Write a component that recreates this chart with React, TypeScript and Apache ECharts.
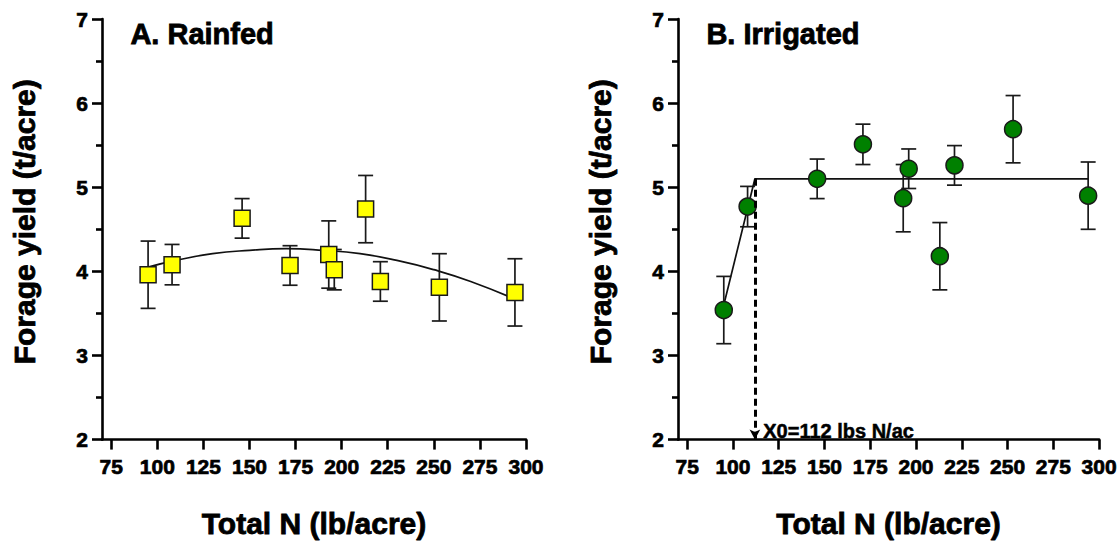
import React, { useEffect, useRef } from "react";
import * as echarts from "echarts";

// ---- data ----
const X_TICKS = [75, 100, 125, 150, 175, 200, 225, 250, 275, 300];

const RAIN_N = [95, 108, 146, 172, 193, 196, 213, 221, 253, 294];
const RAIN_YIELD = [3.96, 4.08, 4.63, 4.07, 4.2, 4.02, 4.74, 3.88, 3.81, 3.75];
const RAIN_SE = [0.4, 0.24, 0.235, 0.235, 0.4, 0.24, 0.4, 0.235, 0.4, 0.4];

const RAIN_FIT_N = [95, 110, 130, 150, 170, 190, 210, 230, 250, 270, 294];
const RAIN_FIT_Y = [4.05, 4.13, 4.21, 4.25, 4.27, 4.25, 4.21, 4.13, 4.02, 3.88, 3.67];

const IRR_N = [95, 108, 146, 171, 193, 196, 213, 221, 253, 294];
const IRR_YIELD = [3.54, 4.77, 5.1, 5.51, 4.87, 5.22, 4.18, 5.26, 5.69, 4.9];
const IRR_SE = [0.4, 0.24, 0.235, 0.24, 0.4, 0.235, 0.4, 0.235, 0.4, 0.4];

const IRR_FIT_N = [95, 112, 294];
const IRR_FIT_Y = [3.6, 5.1, 5.1];

const BREAK_N = 112;
const BREAK_Y = 5.1;

const TITLES = ["A. Rainfed", "B. Irrigated"];
const X_NAME = "Total N (lb/acre)";
const Y_NAME = "Forage yield (t/acre)";
const BREAK_LABEL = "X0=112 lbs N/ac";

const FONT = "Liberation Sans";

function errRender(params: any, api: any) {
  const x = api.value(0);
  const lo = api.value(1);
  const hi = api.value(2);
  const top = api.coord([x, hi]);
  const bot = api.coord([x, lo]);
  const hw = 7.5;
  const style = { stroke: "#1a1a1a", lineWidth: 1.7 };
  return {
    type: "group",
    children: [
      { type: "line", shape: { x1: top[0], y1: top[1], x2: bot[0], y2: bot[1] }, style },
      { type: "line", shape: { x1: top[0] - hw, y1: top[1], x2: top[0] + hw, y2: top[1] }, style },
      { type: "line", shape: { x1: bot[0] - hw, y1: bot[1], x2: bot[0] + hw, y2: bot[1] }, style },
    ],
  };
}

const LABEL_STYLE = {
  fontSize: 21,
  fontWeight: "bold" as const,
  color: "#000",
  fontFamily: FONT,
  textBorderColor: "#000",
  textBorderWidth: 0.7,
};

const NAME_STYLE = {
  fontSize: 30,
  fontWeight: "bold" as const,
  color: "#000",
  fontFamily: FONT,
  textBorderColor: "#000",
  textBorderWidth: 0.8,
};

function xAxisCfg(gridIndex: number) {
  return {
    type: "value",
    gridIndex,
    min: 70,
    max: 300,
    name: X_NAME,
    nameLocation: "middle",
    nameGap: 69,
    nameTextStyle: { ...NAME_STYLE },
    axisLine: { show: true, lineStyle: { color: "#000", width: 2.6 } },
    axisTick: { show: true, customValues: X_TICKS, length: 10, lineStyle: { color: "#000", width: 2.6 } },
    axisLabel: { show: true, customValues: X_TICKS, margin: 16, ...LABEL_STYLE },
    splitLine: { show: false },
  };
}

function yAxisCfg(gridIndex: number) {
  return {
    type: "value",
    gridIndex,
    min: 2,
    max: 7,
    interval: 1,
    name: Y_NAME,
    nameLocation: "middle",
    nameGap: 63,
    nameTextStyle: { ...NAME_STYLE, padding: [0, 0, 0, 15] },
    axisLine: { show: true, lineStyle: { color: "#000", width: 2.6 } },
    axisTick: { show: true, length: 10, lineStyle: { color: "#000", width: 2.6 } },
    minorTick: { show: true, splitNumber: 2, length: 6, lineStyle: { color: "#000", width: 2.6 } },
    axisLabel: { show: true, margin: 14, ...LABEL_STYLE },
    splitLine: { show: false },
    minorSplitLine: { show: false },
  };
}

export default function App() {
  const ref = useRef<HTMLDivElement>(null);

  useEffect(() => {
    if (!ref.current) return;
    const chart = echarts.init(ref.current, null, { renderer: "svg" });

    const rainErr = RAIN_N.map((n, i) => [n, RAIN_YIELD[i] - RAIN_SE[i], RAIN_YIELD[i] + RAIN_SE[i]]);
    const irrErr = IRR_N.map((n, i) => [n, IRR_YIELD[i] - IRR_SE[i], IRR_YIELD[i] + IRR_SE[i]]);

    const titleStyle = (text: string) => ({
      text,
      font: `bold 29px ${FONT}`,
      fill: "#000",
      stroke: "#000",
      lineWidth: 0.8,
    });

    chart.setOption({
      animation: false,
      backgroundColor: "#fff",
      textStyle: { fontFamily: FONT },
      grid: [
        { left: 102, top: 19, width: 424, height: 425, containLabel: false },
        { left: 678, top: 19, width: 423, height: 425, containLabel: false },
      ],
      xAxis: [xAxisCfg(0), xAxisCfg(1)],
      yAxis: [yAxisCfg(0), yAxisCfg(1)],
      graphic: [
        { type: "text", left: 130, top: 19, style: titleStyle(TITLES[0]) },
        { type: "text", left: 706, top: 19, style: titleStyle(TITLES[1]) },
        {
          type: "text",
          left: 763,
          top: 421,
          style: {
            text: BREAK_LABEL,
            font: `bold 20px ${FONT}`,
            fill: "#000",
            stroke: "#000",
            lineWidth: 0.5,
          },
        },
      ],
      series: [
        {
          type: "custom",
          xAxisIndex: 0,
          yAxisIndex: 0,
          renderItem: errRender,
          data: rainErr,
          encode: { x: 0, y: [1, 2] },
          z: 1,
          silent: true,
        },
        {
          type: "line",
          xAxisIndex: 0,
          yAxisIndex: 0,
          data: RAIN_FIT_N.map((n, i) => [n, RAIN_FIT_Y[i]]),
          smooth: true,
          showSymbol: false,
          lineStyle: { color: "#111", width: 1.7 },
          z: 2,
        },
        {
          type: "scatter",
          xAxisIndex: 0,
          yAxisIndex: 0,
          data: RAIN_N.map((n, i) => [n, RAIN_YIELD[i]]),
          symbol: "rect",
          symbolSize: 16,
          itemStyle: { color: "#FFFF00", borderColor: "#1a1a1a", borderWidth: 1.5, opacity: 1 },
          z: 3,
        },
        {
          type: "custom",
          xAxisIndex: 1,
          yAxisIndex: 1,
          renderItem: errRender,
          data: irrErr,
          encode: { x: 0, y: [1, 2] },
          z: 1,
          silent: true,
        },
        {
          type: "line",
          xAxisIndex: 1,
          yAxisIndex: 1,
          data: IRR_FIT_N.map((n, i) => [n, IRR_FIT_Y[i]]),
          showSymbol: false,
          lineStyle: { color: "#111", width: 1.7 },
          z: 2,
          markLine: {
            silent: true,
            symbol: ["none", "arrow"],
            symbolSize: [8, 10],
            label: { show: false },
            lineStyle: { color: "#000", width: 3, type: [7, 4] },
            data: [[{ coord: [BREAK_N, BREAK_Y] }, { coord: [BREAK_N, 2] }]],
          },
        },
        {
          type: "scatter",
          xAxisIndex: 1,
          yAxisIndex: 1,
          data: IRR_N.map((n, i) => [n, IRR_YIELD[i]]),
          symbol: "circle",
          symbolSize: 17,
          itemStyle: { color: "#008000", borderColor: "#1a1a1a", borderWidth: 1.5, opacity: 1 },
          z: 3,
        },
      ],
    });

    return () => chart.dispose();
  }, []);

  return (
    <div
      ref={ref}
      style={{ position: "fixed", left: 0, top: 0, width: 1120, height: 544, background: "#fff" }}
    />
  );
}
